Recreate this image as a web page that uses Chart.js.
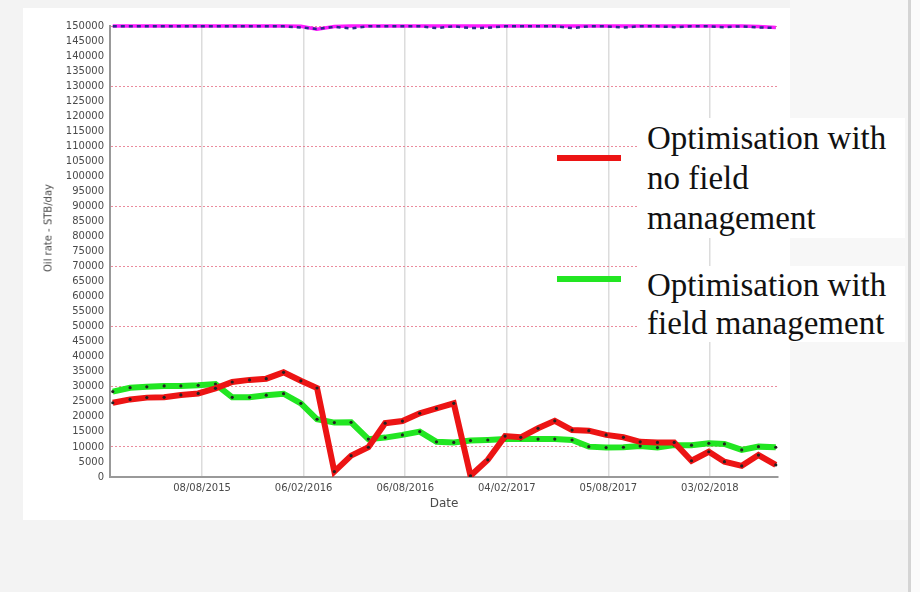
<!DOCTYPE html>
<html>
<head>
<meta charset="utf-8">
<script src="https://cdn.jsdelivr.net/npm/chart.js@4.4.1/dist/chart.umd.min.js"></script>
<style>
  html, body { margin: 0; padding: 0; }
  body { width: 920px; height: 592px; background: #f3f3f3; position: relative; overflow: hidden; }
  #panel { position: absolute; left: 23px; top: 8px; width: 767px; height: 512px; background: #ffffff; }
  #side { position: absolute; left: 790px; top: 0; width: 118px; height: 520px; background: #f7f7f7; }
  #rule { position: absolute; left: 908px; top: 0; width: 3px; height: 592px; background: #d4d4d4; }
  #edge { position: absolute; left: 911px; top: 0; width: 9px; height: 592px; background: #fbfbfb; }
  #chart { position: absolute; left: 0; top: 0; }
  #ytitle { position: absolute; left: 48px; top: 228px; transform: translate(-50%, -50%) rotate(-90deg);
            font: 10px "DejaVu Sans", sans-serif; color: #4a4a4a; white-space: nowrap; }
  .key { position: absolute; left: 637px; width: 258px; padding-left: 10px; background: #ffffff;
         font-family: "Liberation Serif", "Times New Roman", serif; font-size: 33px; color: #111; }
  .swatch { position: absolute; left: 557px; width: 64px; height: 6px; }
</style>
</head>
<body>
<div id="panel"></div>
<div id="side"></div>
<div id="rule"></div>
<div id="edge"></div>
<canvas id="chart" width="920" height="592"></canvas>
<div id="ytitle">Oil rate - STB/day</div>

<div class="key" style="top:118px; line-height:40px;">Optimisation with<br>no field<br>management</div>
<div class="swatch" style="top:155px; background:#ec1414;"></div>
<div class="key" style="top:266px; line-height:38px;">Optimisation with<br>field management</div>
<div class="swatch" style="top:276px; background:#22e622;"></div>

<script>
// Monthly report dates
const dates = [
  '2015-03-01','2015-04-01','2015-05-01','2015-06-01','2015-07-01','2015-08-01',
  '2015-09-01','2015-10-01','2015-11-01','2015-12-01','2016-01-01','2016-02-01',
  '2016-03-01','2016-04-01','2016-05-01','2016-06-01','2016-07-01','2016-08-01',
  '2016-09-01','2016-10-01','2016-11-01','2016-12-01','2017-01-01','2017-02-01',
  '2017-03-01','2017-04-01','2017-05-01','2017-06-01','2017-07-01','2017-08-01',
  '2017-09-01','2017-10-01','2017-11-01','2017-12-01','2018-01-01','2018-02-01',
  '2018-03-01','2018-04-01','2018-05-01','2018-06-01'
];

// Oil rate, STB/day
const noFieldManagement = [
  24700, 25800, 26400, 26500, 27300, 27800, 29500, 31600, 32300, 32700,
  34800, 32000, 29600, 1800, 7100, 9900, 17900, 18600, 21200, 22800,
  24500, 400, 5700, 13600, 13200, 16200, 18700, 15600, 15400, 14000,
  13200, 11700, 11500, 11500, 5400, 8400, 5100, 3700, 7300, 4000
];
const withFieldManagement = [
  28400, 29700, 30000, 30300, 30300, 30500, 30900, 26500, 26500, 27200,
  27700, 24500, 19200, 18100, 18200, 12600, 13100, 14000, 15100, 11700,
  11500, 12100, 12300, 12600, 12600, 12600, 12600, 12300, 10100, 9800,
  9900, 10300, 9800, 10600, 10600, 11200, 11000, 9000, 10100, 9900
];
// Field capacity limits along the top of the plot
const capacityLimit = [
  150000, 150000, 150000, 150000, 150000, 150000, 150000, 150000, 150000, 150000,
  150000, 149900, 148900, 149800, 150000, 150000, 150000, 150000, 150000, 150000,
  150000, 150000, 150000, 150000, 150000, 150000, 150000, 150000, 150000, 150000,
  150000, 150000, 150000, 150000, 150000, 150000, 150000, 150000, 149800, 149500
];
const wellPotential = [
  149900, 149900, 149900, 149900, 149900, 149900, 149900, 149900, 149900, 149900,
  149900, 149500, 149000, 149700, 149200, 149900, 149900, 149900, 149900, 149300,
  149900, 149300, 149400, 149900, 149900, 149900, 149900, 149300, 149900, 149900,
  149500, 149900, 149900, 149600, 149900, 149900, 149600, 149900, 149500, 149400
];

const dateTicks = ['2015-08-08','2016-02-06','2016-08-06','2017-02-04','2017-08-05','2018-02-03'];
const axisStart = '2015-02-24';
const axisEnd = '2018-06-05';

const day = s => Date.UTC(+s.slice(0, 4), +s.slice(5, 7) - 1, +s.slice(8, 10)) / 86400000;
const fmt = v => {
  const d = new Date(v * 86400000);
  const p = n => String(n).padStart(2, '0');
  return p(d.getUTCDate()) + '/' + p(d.getUTCMonth() + 1) + '/' + d.getUTCFullYear();
};
const pts = arr => dates.map((d, i) => ({ x: day(d), y: arr[i] }));

Chart.defaults.font.family = '"DejaVu Sans", sans-serif';
Chart.defaults.color = '#4a4a4a';

new Chart(document.getElementById('chart'), {
  type: 'line',
  data: {
    datasets: [
      {
        label: 'Optimisation with no field management',
        data: pts(noFieldManagement),
        borderColor: '#ec1414', borderWidth: 6,
        pointRadius: 1.6, pointBackgroundColor: '#222', pointBorderWidth: 0,
        order: 0
      },
      {
        label: 'Optimisation with field management',
        data: pts(withFieldManagement),
        borderColor: '#22e622', borderWidth: 6,
        pointRadius: 1.6, pointBackgroundColor: '#222', pointBorderWidth: 0,
        order: 1
      },
      {
        label: 'Well potential',
        data: pts(wellPotential),
        borderColor: '#2a2a8c', borderWidth: 2.5, borderDash: [4, 4],
        pointRadius: 0, order: 2, clip: false
      },
      {
        label: 'Capacity limit',
        data: pts(capacityLimit),
        borderColor: '#ff1aff', borderWidth: 3.5,
        pointRadius: 0, order: 3, clip: false
      }
    ]
  },
  options: {
    responsive: false,
    animation: false,
    layout: { padding: { left: 0, top: 26, right: 142, bottom: 75 } },
    plugins: { legend: { display: false }, tooltip: { enabled: false } },
    scales: {
      x: {
        type: 'linear',
        min: day(axisStart),
        max: day(axisEnd),
        afterBuildTicks: s => { s.ticks = dateTicks.map(d => ({ value: day(d) })); },
        afterFit: s => { s.height = 40; },
        ticks: {
          autoSkip: false, maxRotation: 0, padding: 5,
          font: { size: 10 }, color: '#4a4a4a',
          callback: v => fmt(v)
        },
        grid: { color: '#dcdcdc', lineWidth: 1.5, drawTicks: false },
        border: { color: '#999', width: 2 },
        title: { display: true, text: 'Date', font: { size: 12 }, color: '#4a4a4a', padding: { top: 0, bottom: 6 } }
      },
      y: {
        min: 0, max: 150000,
        afterFit: s => { s.width = 110; },
        ticks: {
          stepSize: 5000, autoSkip: false, padding: 6,
          font: { size: 10 }, color: '#4a4a4a',
          callback: v => String(v)
        },
        grid: {
          drawTicks: false, lineWidth: 1,
          color: c => (c.tick && c.tick.value % 20000 === 10000) ? 'rgba(232,120,140,0.85)' : 'transparent'
        },
        border: { color: '#999', width: 2, dash: [2, 2] }
      }
    }
  }
});
</script>
</body>
</html>
